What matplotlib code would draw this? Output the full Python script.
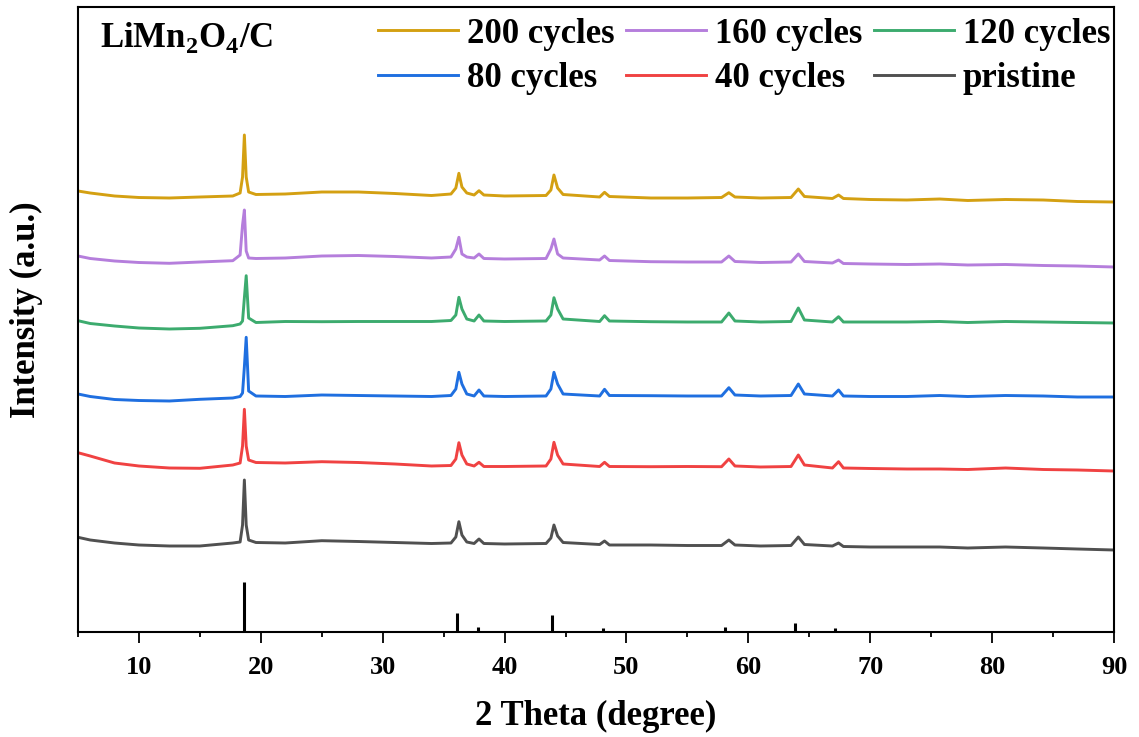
import matplotlib
matplotlib.use('Agg')
import matplotlib.pyplot as plt
from matplotlib.ticker import MultipleLocator

two_theta = [5, 6, 8, 10, 12.5, 15, 17.7, 18.3, 18.5, 18.65, 18.8, 19.0, 19.6,
             22, 25, 28, 31, 34, 35.6, 36.0, 36.25, 36.5, 36.9, 37.5, 37.9, 38.3,
             40, 43.4, 43.8, 44.05, 44.35, 44.8, 47.8, 48.2, 48.6, 52, 55,
             57.8, 58.4, 58.9, 61, 63.5, 64.1, 64.6, 66.9, 67.4, 67.8,
             70, 73, 75.7, 78, 81.1, 84.2, 87, 90]

labels = ['200 cycles', '160 cycles', '120 cycles', '80 cycles', '40 cycles', 'pristine']
colors = ['#D4A012', '#B57EDC', '#3CAB6E', '#1F6FE0', '#F04242', '#505050']
offsets = [410, 345, 289, 215, 141, 62]

cyc200 = [31, 29, 26, 24.5, 24, 25, 26, 29, 45, 87, 45, 30, 27.5,
          28, 30, 30, 28.5, 26.5, 28, 34, 48.7, 35, 29, 27, 31.3, 27,
          26, 26.5, 32, 47, 34, 27.5, 25, 29.7, 25.5, 24, 24,
          24.5, 29.3, 25, 24, 24.5, 33, 25.5, 23.5, 27, 23.5,
          22.5, 22, 23, 21.5, 22.5, 22, 20.5, 20]
cyc160 = [31, 28.5, 26, 24.5, 23.7, 25, 26.3, 32, 62, 77, 36, 29, 28.5,
          29, 31, 31.5, 30.5, 29, 30, 38, 49.7, 33, 30, 29, 33, 28.5,
          28, 28.5, 38, 48, 33, 29, 27, 31, 26.5, 25.3, 25,
          25, 31, 25.5, 24.5, 25, 33, 25.5, 24, 27, 23.5,
          23, 22.5, 23, 22, 22.5, 21.5, 21, 20]
cyc120 = [22.3, 19.5, 17, 15, 14, 14.7, 17.3, 19, 22, 45, 67.3, 25, 20.5,
          21.5, 21.3, 21.5, 21.5, 21.5, 22.5, 28, 45.7, 34, 24, 22, 28, 22,
          21.5, 22, 28, 45.3, 34, 24, 21.5, 27.3, 22, 21.3, 21,
          21, 30, 22, 21, 21.5, 35, 23, 21, 26.3, 21,
          21, 21, 21.5, 20.5, 21.5, 21, 20.5, 20]
cyc80 = [23, 20.5, 17.5, 16.5, 16, 17.7, 19, 20.5, 24, 50, 79.7, 26, 21,
         20.5, 22, 21.5, 21, 20.5, 21.5, 28, 44.7, 33, 23, 21, 27, 21,
         20.5, 21, 28, 44.7, 33, 23, 21, 27.7, 21.5, 21.3, 21,
         21, 29.3, 22, 21, 21.5, 33, 23, 21, 27, 21,
         20.5, 20.5, 21.5, 20.5, 21.5, 21, 20, 20]
cyc40 = [38.3, 35, 28, 25, 23, 22.7, 26, 28, 45, 81.7, 45, 31, 28.5,
         28, 29.3, 28.5, 27, 25, 25.5, 32, 48.3, 36, 27, 25, 28.7, 24.5,
         24.5, 25, 32, 48.7, 36, 27, 24.5, 28.7, 24.5, 24.3, 24.5,
         24.3, 32, 25, 24, 24.5, 36, 26, 23, 29.3, 23,
         22.5, 22, 22, 21.5, 23, 21.5, 21, 20]
pristine = [32.7, 30, 27, 25, 24, 24, 27, 28, 45, 90, 45, 30, 27.5,
            27, 29.3, 28.5, 27.5, 26.5, 27, 33, 48.3, 35, 28, 26.5, 31, 26.5,
            26, 26.5, 32, 45, 34, 27.5, 25.5, 29, 25, 25, 24.5,
            24.5, 30, 25, 24, 24.5, 33, 25.5, 24, 27, 23.5,
            23, 23, 23, 22, 23, 22, 21, 20]
series = [cyc200, cyc160, cyc120, cyc80, cyc40, pristine]

# standard LiMn2O4 reference pattern (sticks)
ref_pos = [18.61, 36.1, 37.78, 43.88, 48.1, 58.1, 63.8, 67.1, 75.6, 76.6, 80.7, 83.8]
ref_int = [50, 19, 5, 17, 4, 5, 9, 4, 1, 1, 1.5, 1]

plt.rcParams['font.family'] = 'Liberation Serif'
plt.rcParams['font.weight'] = 'bold'
plt.rcParams['mathtext.fontset'] = 'custom'
plt.rcParams['mathtext.bf'] = 'Liberation Serif:bold'
plt.rcParams['mathtext.rm'] = 'Liberation Serif:bold'

fig = plt.figure(figsize=(11.39, 7.37), dpi=100)
ax = fig.add_axes([78/1139, 105/737, 1036/1139, 625/737])

lines = {}
for lab, col, off, ys in zip(labels, colors, offsets, series):
    lines[lab], = ax.plot(two_theta, [v + off for v in ys], color=col, lw=2.1,
                          label=lab, solid_joinstyle='round')

ax.vlines(ref_pos, 0, ref_int, color='black', lw=2.2)

ax.set_xlim(5, 90)
ax.set_ylim(0, 625)
ax.xaxis.set_major_locator(MultipleLocator(10))
ax.xaxis.set_minor_locator(MultipleLocator(5))
ax.tick_params(axis='x', which='major', direction='out', length=8, width=1.3,
               labelsize=19, pad=9.5)
ax.tick_params(axis='x', which='minor', direction='out', length=3.5, width=1.3)
ax.set_yticks([])
for s in ax.spines.values():
    s.set_linewidth(1.5)

ax.set_xlabel('2 Theta (degree)', fontsize=25, fontweight='bold', labelpad=15)
ax.set_ylabel('Intensity (a.u.)', fontsize=25, fontweight='bold')
ax.yaxis.set_label_coords(-0.034, 0.515)

ax.text(0.021, 0.936, r'LiMn$_\mathbf{2}$O$_\mathbf{4}$/C', transform=ax.transAxes,
        fontsize=25, fontweight='bold', va='baseline', ha='left')

order = ['200 cycles', '80 cycles', '160 cycles', '40 cycles', '120 cycles', 'pristine']
ax.legend([lines[k] for k in order], order, ncol=3, loc='upper right',
          bbox_to_anchor=(1.005, 0.997), frameon=False, fontsize=25,
          handlelength=2.3, handletextpad=0.25, columnspacing=0.35,
          labelspacing=0.33, borderpad=0.2, borderaxespad=0.05)

fig.savefig('out.png', dpi=100)
